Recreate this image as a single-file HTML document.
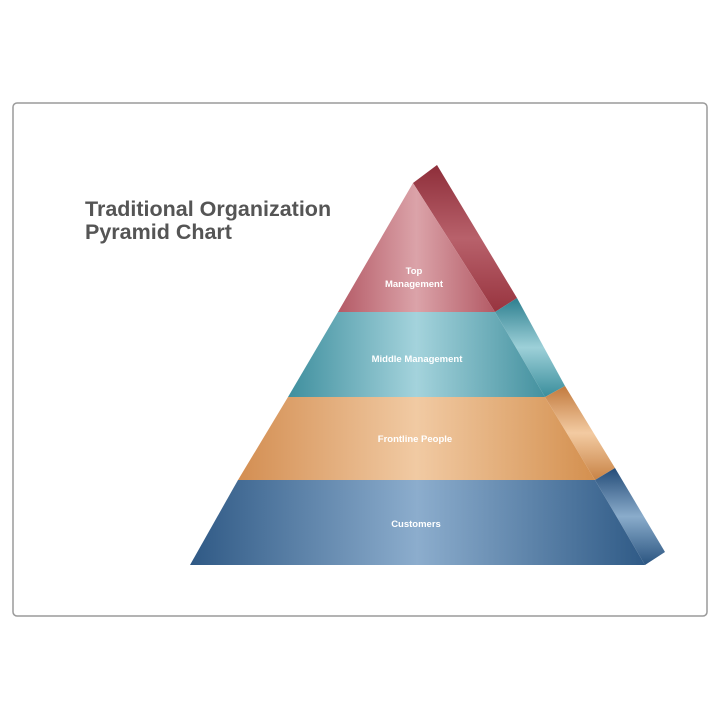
<!DOCTYPE html>
<html><head><style>
html,body{margin:0;padding:0;background:#fff;width:720px;height:720px;overflow:hidden}
</style></head><body>
<svg width="720" height="720" viewBox="0 0 720 720" xmlns="http://www.w3.org/2000/svg">
<defs>
<linearGradient id="r" x1="0" x2="1"><stop offset="0" stop-color="#b45a66"/><stop offset="0.5" stop-color="#dba3a9"/><stop offset="1" stop-color="#b35a65"/></linearGradient>
<linearGradient id="t" x1="0" x2="1"><stop offset="0" stop-color="#3f8f9e"/><stop offset="0.5" stop-color="#a4d3dc"/><stop offset="1" stop-color="#44919f"/></linearGradient>
<linearGradient id="o" x1="0" x2="1"><stop offset="0" stop-color="#d38e52"/><stop offset="0.5" stop-color="#f1caa3"/><stop offset="1" stop-color="#d4904f"/></linearGradient>
<linearGradient id="b" x1="0" x2="1"><stop offset="0" stop-color="#2f5985"/><stop offset="0.5" stop-color="#8cadcd"/><stop offset="1" stop-color="#2f5a86"/></linearGradient>
<linearGradient id="rs" x1="0" y1="0" x2="0" y2="1"><stop offset="0" stop-color="#8e2e3a"/><stop offset="0.5" stop-color="#b8616b"/><stop offset="1" stop-color="#98343f"/></linearGradient>
<linearGradient id="ts" x1="0" y1="0" x2="0" y2="1"><stop offset="0" stop-color="#2d7f8f"/><stop offset="0.5" stop-color="#9dd0d8"/><stop offset="1" stop-color="#3a8e9c"/></linearGradient>
<linearGradient id="os" x1="0" y1="0" x2="0" y2="1"><stop offset="0" stop-color="#c27a3e"/><stop offset="0.5" stop-color="#f3cba2"/><stop offset="1" stop-color="#c88345"/></linearGradient>
<linearGradient id="bs" x1="0" y1="0" x2="0" y2="1"><stop offset="0" stop-color="#244c78"/><stop offset="0.5" stop-color="#8aaccb"/><stop offset="1" stop-color="#2a5480"/></linearGradient>
</defs>
<rect x="13" y="103" width="694" height="513" rx="4" fill="#fff" stroke="#9a9a9a" stroke-width="1.5"/>
<text x="85" y="216" font-family="Liberation Sans, sans-serif" font-weight="bold" font-size="21.5" fill="#555">Traditional Organization</text>
<text x="85" y="239" font-family="Liberation Sans, sans-serif" font-weight="bold" font-size="21.5" fill="#555">Pyramid Chart</text>
<polygon points="413,183 437,165 517,298 495,312" fill="url(#rs)"/>
<polygon points="495,312 517,298 565,386 545,397" fill="url(#ts)"/>
<polygon points="545,397 565,386 615,468 595,480" fill="url(#os)"/>
<polygon points="595,480 615,468 665,552 645,565" fill="url(#bs)"/>
<polygon points="413,183 495,312 338,312" fill="url(#r)"/>
<polygon points="338,312 495,312 545,397 288,397" fill="url(#t)"/>
<polygon points="288,397 545,397 595,480 238,480" fill="url(#o)"/>
<polygon points="238,480 595,480 645,565 190,565" fill="url(#b)"/>
<g font-family="Liberation Sans, sans-serif" font-weight="bold" font-size="9.5" fill="#fff" text-anchor="middle">
<text x="414" y="274">Top</text>
<text x="414" y="287">Management</text>
<text x="417" y="362">Middle Management</text>
<text x="415" y="442">Frontline People</text>
<text x="416" y="527">Customers</text>
</g>
</svg>
</body></html>
